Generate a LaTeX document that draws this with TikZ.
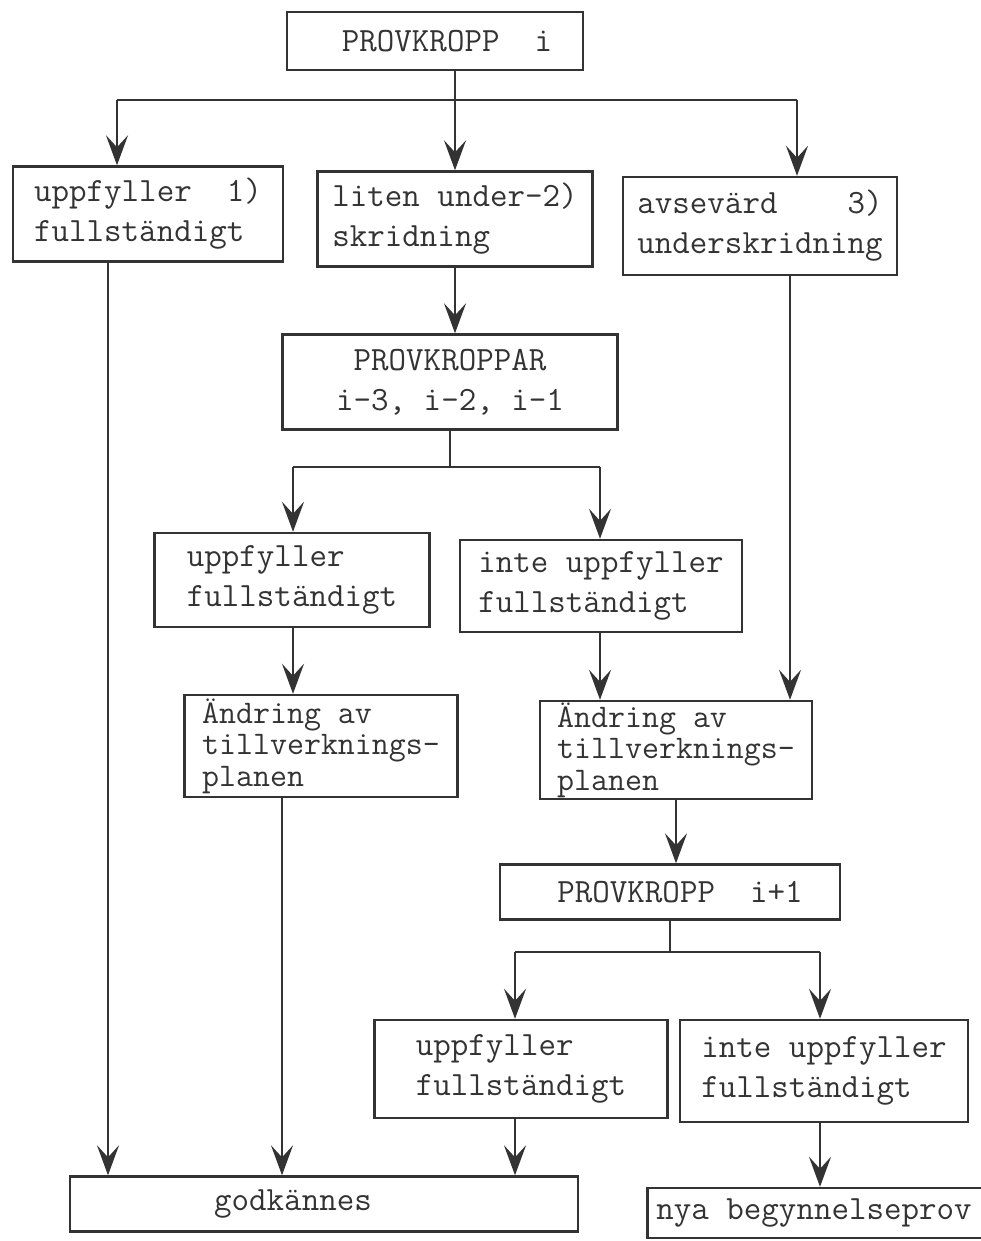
\documentclass[tikz,border=0pt]{standalone}
\usepackage[dvipsnames,svgnames,x11names]{xcolor}
\usepackage{tikz}
\usetikzlibrary{arrows.meta}

\begin{document}
\begin{tikzpicture}[x=1pt, y=-1pt, line width=2.6pt, color=black!80,
		box/.style={draw, line width=2.4pt, align=left, inner sep=0pt, font=\fontsize{34}{40}\selectfont\ttfamily},
		boxtres/.style={box, font=\fontsize{33}{31.5}\selectfont\ttfamily},
		arr/.style={-{Stealth[length=30pt, width=22pt, inset=12pt]}}]
			\useasboundingbox (0,0) rectangle (981,1241);
			
			% Cajas (primer nivel)
			\node[box, minimum width=296pt, minimum height=58pt] (top) at (435,41) {\hspace*{24pt}PROVKROPP\ \ i};
			\node[box, minimum width=270pt, minimum height=95pt] (uppf) at (148,214) {uppfyller\ \ 1)\\fullständigt};
			\node[box, minimum width=275pt, minimum height=95pt] (liten) at (455,219) {liten under-2)\\skridning};
			\node[box, minimum width=274pt, minimum height=98pt] (avsev) at (760,226) {avsevärd\ \ \ \ 3)\\underskridning};
			
			% Cajas (segundo nivel)
			\node[box, align=center, minimum width=335pt, minimum height=95pt] (provk) at (450,382) {PROVKROPPAR\\i-3, i-2, i-1};
			\node[box, minimum width=275pt, minimum height=94pt] (uppfa) at (292,580) {uppfyller\\fullständigt};
			\node[box, minimum width=282pt, minimum height=92pt] (intea) at (601,586) {inte uppfyller\\fullständigt};
			\node[boxtres, minimum width=273pt, minimum height=102pt] (andra) at (321,746) {Ändring av\\tillverknings-\\planen};
			\node[boxtres, minimum width=272pt, minimum height=98pt] (andrb) at (676,750) {Ändring av\\tillverknings-\\planen};
			
			% Cajas (tercer nivel)
			\node[box, minimum width=340pt, minimum height=55pt] (provkb) at (670,892) {\hspace*{20pt}PROVKROPP\ \ i+1};
			\node[box, minimum width=293pt, minimum height=98pt] (uppfb) at (521,1069) {uppfyller\\fullständigt};
			\node[box, minimum width=288pt, minimum height=102pt] (inteb) at (824,1071) {inte uppfyller\\fullständigt};
			\node[box, minimum width=508pt, minimum height=55pt] (godk) at (324,1204) {godkännes\hspace*{62pt}};
			\node[box, minimum width=345pt, minimum height=50pt] (nya) at (820,1213) {nya begynnelseprov\hspace*{12pt}};
			
			% Puntos de las ramas
			\coordinate (ta) at (117,100);
			\coordinate (tb) at (455,100);
			\coordinate (tc) at (797,100);
			\coordinate (la) at (108,0);
			\coordinate (lb) at (282,0);
			\coordinate (ra) at (790,0);
			\coordinate (ma) at (293,467);
			\coordinate (mb) at (450,467);
			\coordinate (mc) at (600,467);
			\coordinate (na) at (676,0);
			\coordinate (ba) at (515,952);
			\coordinate (bb) at (670,952);
			\coordinate (bc) at (820,952);
			
			% Ramas desde PROVKROPP i
			\draw (top.south -| tb) -- (tb);
			\draw (ta) -- (tc);
			\draw[arr] (ta) -- (uppf.north -| ta);
			\draw[arr] (tb) -- (liten.north -| tb);
			\draw[arr] (tc) -- (avsev.north -| tc);
			
			\draw[arr] (uppf.south -| la) -- (godk.north -| la);
			\draw[arr] (liten.south -| tb) -- (provk.north -| tb);
			\draw[arr] (avsev.south -| ra) -- (andrb.north -| ra);
			
			% Ramas desde PROVKROPPAR
			\draw (provk.south -| mb) -- (mb);
			\draw (ma) -- (mc);
			\draw[arr] (ma) -- (uppfa.north -| ma);
			\draw[arr] (mc) -- (intea.north -| mc);
			\draw[arr] (uppfa.south -| ma) -- (andra.north -| ma);
			\draw[arr] (intea.south -| mc) -- (andrb.north -| mc);
			\draw[arr] (andra.south -| lb) -- (godk.north -| lb);
			\draw[arr] (andrb.south -| na) -- (provkb.north -| na);
			
			% Ramas desde PROVKROPP i+1
			\draw (provkb.south -| bb) -- (bb);
			\draw (ba) -- (bc);
			\draw[arr] (ba) -- (uppfb.north -| ba);
			\draw[arr] (bc) -- (inteb.north -| bc);
			\draw[arr] (uppfb.south -| ba) -- (godk.north -| ba);
			\draw[arr] (inteb.south -| bc) -- (nya.north -| bc);
			
		\end{tikzpicture}
\end{document}
